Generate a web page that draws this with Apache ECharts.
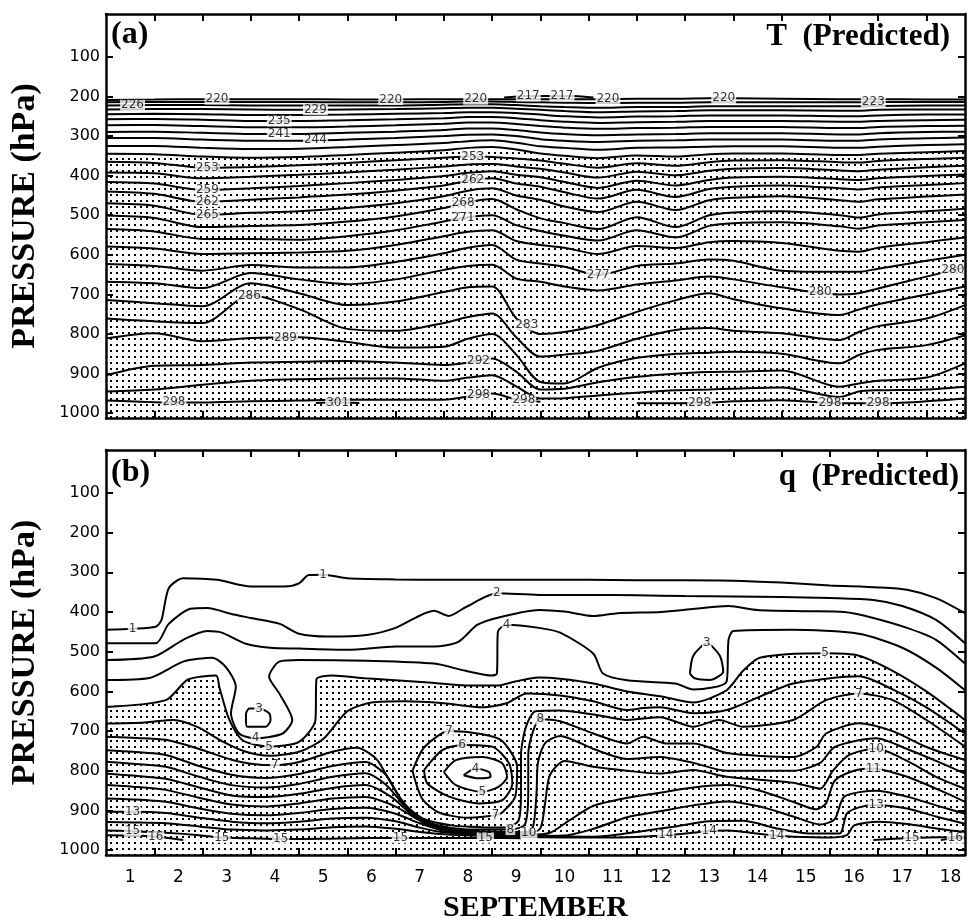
<!DOCTYPE html>
<html>
<head>
<meta charset="utf-8">
<script src="https://cdn.jsdelivr.net/npm/echarts@6/dist/echarts.min.js"></script>
<style>
  html, body { margin: 0; background: #fff; }
  #chart { width: 968px; height: 924px; }
</style>
</head>
<body>
<div id="chart"></div>
<script>
// axes
const dayLabels = ['1', '2', '3', '4', '5', '6', '7', '8', '9', '10', '11', '12', '13', '14', '15', '16', '17', '18']
const dayBounds = [1, 2, 3, 4, 5, 6, 7, 8, 9, 10, 11, 12, 13, 14, 15, 16, 17]
const dayCenters = [0.5, 1.5, 2.5, 3.5, 4.5, 5.5, 6.5, 7.5, 8.5, 9.5, 10.5, 11.5, 12.5, 13.5, 14.5, 15.5, 16.5, 17.5]
const pressureTicks = [100, 200, 300, 400, 500, 600, 700, 800, 900, 1000]

// (a) temperature contours, pressure (hPa) of each isotherm at these days
const tDays = [0, 1, 2, 3, 4, 5, 6, 7, 7.5, 8, 8.5, 9, 9.5, 10.2, 11, 11.8, 12.5, 13, 14, 15.2, 15.6, 16, 17, 17.8]
const T220 = [209, 208, 207, 207, 207, 208, 208, 207, 207, 207, 207, 207, 207, 207, 206, 206, 205, 205, 206, 207, 207, 207, 208, 208]
const T223 = [215, 214, 214, 214, 214, 215, 215, 214, 213, 213, 214, 215, 216, 217, 216, 216, 215, 215, 215, 215, 215, 214, 214, 214]
const T226 = [223, 222, 222, 223, 223, 223, 223, 221, 220, 220, 222, 225, 227, 229, 227, 227, 225, 225, 225, 225, 225, 224, 223, 223]
const T229 = [233, 232, 232, 233, 234, 233, 232, 230, 229, 229, 231, 234, 237, 240, 238, 237, 235, 235, 235, 236, 236, 234, 233, 233]
const T232 = [245, 244, 245, 247, 247, 246, 244, 242, 240, 240, 242, 246, 250, 253, 251, 250, 248, 248, 248, 250, 250, 248, 246, 246]
const T235 = [258, 257, 259, 262, 262, 260, 258, 255, 252, 252, 255, 260, 264, 267, 265, 264, 262, 262, 262, 264, 264, 262, 260, 259]
const T238 = [273, 272, 275, 278, 278, 276, 273, 269, 266, 266, 270, 275, 279, 282, 280, 279, 277, 277, 277, 280, 280, 277, 275, 274]
const T241 = [290, 289, 292, 295, 295, 292, 289, 285, 281, 281, 285, 291, 295, 298, 296, 295, 293, 293, 293, 296, 296, 293, 290, 289]
const T244 = [305, 305, 309, 312, 312, 309, 305, 300, 297, 296, 300, 308, 312, 315, 312, 311, 309, 309, 309, 312, 312, 309, 306, 304]
const T247 = [325, 325, 330, 333, 332, 328, 323, 318, 313, 311, 317, 326, 330, 335, 330, 329, 327, 326, 326, 330, 330, 327, 323, 321]
const T250 = [345, 346, 352, 355, 353, 348, 342, 336, 330, 328, 334, 344, 350, 356, 349, 352, 346, 344, 344, 348, 348, 345, 341, 338]
const T253 = [365, 368, 380, 378, 374, 368, 361, 355, 352, 353, 357, 362, 370, 380, 369, 375, 366, 362, 361, 366, 367, 363, 358, 355]
const T256 = [392, 394, 407, 403, 398, 392, 385, 377, 372, 371, 377, 383, 392, 405, 390, 399, 388, 383, 381, 387, 389, 385, 379, 375]
const T259 = [416, 420, 436, 432, 426, 419, 411, 401, 393, 389, 398, 404, 416, 431, 413, 425, 411, 405, 403, 409, 411, 407, 401, 397]
const T262 = [440, 446, 466, 461, 455, 448, 438, 425, 413, 407, 420, 428, 442, 458, 436, 454, 434, 428, 425, 432, 435, 430, 424, 419]
const T265 = [470, 476, 499, 494, 490, 482, 470, 452, 438, 432, 450, 461, 478, 492, 466, 487, 462, 456, 452, 462, 466, 460, 453, 448]
const T268 = [501, 507, 530, 527, 525, 516, 503, 482, 467, 459, 485, 508, 520, 535, 505, 530, 500, 493, 490, 500, 506, 498, 490, 484]
const T271 = [535, 541, 560, 560, 562, 553, 538, 516, 505, 500, 525, 540, 552, 564, 538, 556, 527, 520, 518, 528, 534, 526, 518, 512]
const T274 = [579, 584, 598, 596, 594, 590, 575, 553, 542, 538, 565, 575, 582, 598, 578, 583, 568, 565, 570, 590, 592, 582, 568, 556]
const T277 = [623, 628, 640, 626, 632, 632, 618, 596, 582, 575, 612, 622, 630, 651, 628, 622, 612, 615, 640, 643, 643, 635, 615, 600]
const T280 = [668, 672, 684, 646, 662, 674, 662, 638, 628, 625, 660, 668, 680, 690, 675, 665, 655, 662, 682, 700, 697, 685, 655, 632]
const T283 = [714, 722, 730, 672, 697, 727, 718, 694, 682, 680, 760, 800, 795, 777, 744, 715, 697, 712, 735, 752, 738, 725, 700, 680]
const T286 = [761, 768, 772, 702, 737, 787, 792, 772, 757, 748, 808, 857, 852, 842, 812, 790, 785, 792, 798, 815, 795, 780, 761, 727]
const T289 = [811, 798, 818, 810, 808, 820, 834, 832, 812, 800, 852, 921, 925, 885, 860, 850, 847, 845, 850, 874, 853, 840, 828, 803]
const T292 = [904, 880, 878, 872, 870, 868, 872, 878, 872, 862, 895, 940, 938, 922, 908, 900, 896, 895, 892, 933, 925, 918, 910, 874]
const T295 = [945, 940, 928, 918, 914, 912, 912, 918, 910, 904, 932, 963, 962, 955, 948, 942, 940, 938, 935, 959, 945, 942, 940, 933]
const T298 = [968, 972, 973, 970, 968, 966, 966, 966, 958, 950, 965, 971, '-', '-', 975, 975, 973, 970, 967, 975, 975, 975, 970, 963]
const T217days = [8.25, 8.7, 9.2, 9.7, 10.1]
const T217 = [203, 199, 199, 199, 203]
const T301days = [4.35, 4.8, 5.25]
const T301 = [974, 973, 974]

const tLines = [
  [220, T220], [223, T223], [226, T226], [229, T229], [232, T232], [235, T235], [238, T238],
  [241, T241], [244, T244], [247, T247], [250, T250], [253, T253], [256, T256], [259, T259],
  [262, T262], [265, T265], [268, T268], [271, T271], [274, T274], [277, T277], [280, T280],
  [283, T283], [286, T286], [289, T289], [292, T292], [295, T295], [298, T298]
]
// days where each isotherm carries its value
const tLabelDays = [
  [220, [2.3, 5.9, 7.66, 10.4, 12.8]], [223, [15.9]], [226, [0.55]], [229, [4.34]],
  [235, [3.59]], [241, [3.59]], [244, [4.34]], [253, [2.1, 7.6]], [259, [2.1]],
  [262, [2.1, 7.6]], [265, [2.1]], [268, [7.4]], [271, [7.4]], [277, [10.2]],
  [280, [14.8, 17.55]], [283, [8.72]], [286, [2.97]], [289, [3.72]], [292, [7.72]],
  [298, [1.41, 7.72, 8.66, 12.3, 15.0, 16.0]]
]

// (b) specific humidity contours, [day, hPa] along each line
const Q1 = [[0, 445], [0.55, 442], [1.03, 437], [1.15, 420], [1.3, 340], [1.6, 315], [2.3, 319], [3.0, 336], [3.7, 336], [4.0, 328], [4.2, 307], [4.5, 306], [5, 315], [6, 318], [7, 319], [8, 319], [9, 319], [10, 319], [11, 320], [12, 320], [13, 321], [14, 326], [15, 333], [16, 338], [16.6, 344], [17.2, 365], [17.8, 403]]
const Q2 = [[0, 479], [1.03, 479], [1.3, 430], [1.75, 392], [2.1, 390], [2.6, 405], [3.0, 415], [3.6, 430], [4.0, 455], [4.6, 462], [5.4, 458], [6.0, 440], [6.8, 397], [7.1, 410], [7.45, 388], [8.1, 353], [8.97, 357], [10, 357], [11, 358], [12, 360], [13, 361], [14, 362], [15, 365], [15.9, 370], [16.5, 385], [17.2, 420], [17.8, 479]]
const Q3 = [[0, 521], [1.0, 512], [1.6, 470], [2.1, 448], [2.4, 452], [2.9, 480], [3.4, 490], [4.0, 492], [5, 495], [6, 487], [6.8, 487], [7.3, 475], [7.7, 432], [8.2, 412], [8.97, 395], [9.5, 399], [10.1, 410], [10.6, 403], [11.5, 400], [12.2, 392], [12.9, 385], [13.5, 395], [14.5, 398], [15.3, 400], [15.9, 415], [16.6, 440], [17.2, 470], [17.8, 530]]
const Q4 = [[0, 571], [0.9, 566], [1.6, 525], [2.2, 515], [2.48, 538], [2.69, 588], [2.59, 655], [2.76, 706], [3.1, 718], [3.66, 706], [3.86, 672], [3.59, 605], [3.38, 563], [3.59, 525], [4.0, 521], [5.4, 523], [6.8, 530], [7.45, 548], [8.0, 560], [8.1, 555], [8.12, 450], [8.3, 432], [8.97, 440], [9.41, 452], [10.1, 505], [10.3, 555], [10.8, 572], [11.8, 580], [12.17, 595], [12.86, 575], [12.9, 470], [13.0, 448], [14.2, 445], [15.6, 455], [16.5, 490], [17.2, 540], [17.8, 597]]
const Q5 = [[0, 639], [1.24, 622], [1.7, 570], [2.28, 560], [2.35, 590], [2.55, 670], [2.83, 723], [3.38, 739], [4.0, 727], [4.34, 672], [4.36, 570], [4.69, 560], [5.38, 567], [6.76, 578], [7.45, 585], [8.14, 585], [8.48, 575], [8.97, 565], [9.41, 568], [10.1, 580], [10.8, 600], [11.48, 612], [12.17, 628], [12.86, 597], [13.2, 548], [13.55, 515], [14.9, 504], [15.6, 510], [16.3, 548], [17.0, 600], [17.8, 672]]
const Q6 = [[0, 681], [0.8, 678], [1.4, 672], [1.9, 690], [2.4, 725], [2.9, 752], [3.4, 762], [4.0, 752], [4.5, 720], [5.0, 650], [5.5, 628], [6.2, 625], [7.0, 630], [7.8, 640], [8.3, 630], [8.72, 605], [9.41, 610], [10.1, 625], [10.8, 647], [11.13, 642], [11.48, 640], [12.17, 655], [12.86, 647], [13.55, 613], [14.24, 580], [15.61, 562], [16.3, 595], [17.0, 640], [17.8, 706]]
const Q7 = [[0, 714], [0.55, 717], [1.24, 722], [1.93, 745], [2.6, 772], [3.0, 782], [3.5, 786], [4.0, 778], [4.69, 752], [5.2, 742], [5.6, 770], [5.9, 830], [6.2, 885], [6.6, 922], [7.2, 938], [7.8, 942], [8.3, 943], [8.55, 925], [8.6, 850], [8.6, 760], [8.7, 690], [8.9, 650], [9.4, 648], [10.1, 658], [10.8, 672], [11.48, 665], [12.17, 689], [12.7, 672], [13.2, 689], [14.24, 672], [14.92, 622], [15.6, 605], [16.3, 622], [17.0, 672], [17.8, 739]]
const Q8 = [[0, 748], [0.55, 752], [1.24, 760], [1.93, 788], [2.6, 810], [3.31, 818], [4.0, 808], [4.69, 788], [5.38, 778], [5.8, 810], [6.1, 870], [6.5, 920], [7.0, 940], [7.6, 948], [8.38, 948], [8.68, 935], [8.75, 850], [8.75, 760], [8.85, 700], [9.0, 670], [9.41, 675], [10.1, 706], [10.8, 731], [11.13, 714], [11.6, 731], [12.17, 731], [12.9, 756], [14.24, 765], [14.72, 740], [14.92, 706], [15.6, 680], [16.3, 700], [17.0, 740], [17.8, 773]]
const Q9 = [[0, 777], [0.55, 782], [1.24, 790], [1.93, 815], [2.6, 836], [3.31, 842], [4.0, 833], [4.69, 815], [5.38, 806], [5.8, 835], [6.2, 890], [6.6, 932], [7.2, 948], [8.0, 953], [8.7, 954], [8.85, 940], [8.92, 860], [8.95, 780], [9.1, 730], [9.41, 712], [10.1, 745], [10.8, 770], [11.48, 765], [12.17, 780], [12.86, 800], [14.24, 800], [14.8, 780], [15.1, 740], [15.96, 718], [16.6, 745], [17.2, 775], [17.8, 807]]
const Q10 = [[0, 807], [0.55, 812], [1.24, 820], [1.93, 842], [2.6, 862], [3.31, 866], [4.0, 858], [4.69, 843], [5.38, 836], [5.9, 865], [6.4, 915], [7.0, 945], [7.8, 956], [8.76, 957], [9.0, 945], [9.1, 880], [9.2, 810], [9.5, 775], [10.1, 790], [10.8, 800], [11.48, 807], [12.17, 798], [12.86, 815], [14.24, 830], [14.8, 845], [15.06, 800], [15.4, 760], [15.96, 744], [16.6, 775], [17.2, 815], [17.8, 845]]
const Q11 = [[0, 836], [0.55, 840], [1.24, 848], [1.93, 868], [2.6, 885], [3.31, 890], [4.0, 882], [4.69, 870], [5.38, 866], [6.0, 890], [6.5, 925], [7.0, 948], [7.8, 959], [8.8, 961], [9.2, 956], [9.6, 925], [10.1, 888], [10.8, 868], [11.48, 855], [12.17, 842], [12.86, 836], [13.55, 850], [14.24, 878], [14.72, 897], [14.92, 882], [15.1, 825], [15.5, 800], [15.9, 794], [16.6, 815], [17.2, 845], [17.8, 878]]
const Q12 = [[0, 870], [0.55, 872], [1.24, 878], [1.93, 895], [2.6, 908], [3.31, 912], [4.0, 906], [4.69, 896], [5.38, 893], [6.0, 908], [6.5, 932], [7.0, 951], [7.8, 961], [8.8, 964], [9.5, 963], [10.1, 946], [10.8, 917], [11.48, 902], [12.17, 887], [12.86, 877], [13.55, 890], [14.24, 915], [14.8, 935], [15.1, 922], [15.3, 865], [15.96, 850], [16.6, 865], [17.2, 887], [17.8, 908]]
const Q13 = [[0, 903], [0.55, 903], [1.24, 906], [1.93, 918], [2.6, 928], [3.31, 932], [4.0, 928], [4.69, 920], [5.38, 918], [6.0, 927], [6.5, 943], [7.0, 955], [7.8, 962], [9.0, 965], [10.0, 966], [10.5, 962], [11.1, 952], [11.8, 940], [12.5, 927], [13.2, 926], [13.9, 945], [14.6, 958], [15.2, 958], [15.35, 908], [15.6, 892], [15.96, 886], [16.6, 895], [17.2, 915], [17.8, 933]]
const Q14 = [[0, 929], [0.55, 930], [1.24, 932], [1.93, 940], [2.6, 948], [3.31, 950], [4.0, 948], [4.69, 942], [5.38, 940], [6.0, 946], [6.5, 954], [7.0, 960], [7.8, 964], [9.0, 967], [10.0, 968], [10.8, 967], [11.6, 962], [12.17, 956], [12.5, 951], [12.9, 950], [13.5, 958], [13.9, 963], [14.24, 966], [15.0, 968], [15.35, 962], [15.5, 938], [16.0, 928], [16.6, 934], [17.2, 945], [17.8, 954]]
const Q15 = [[0, 950], [0.55, 952], [1.24, 956], [1.93, 962], [2.4, 968], [3.0, 970], [3.62, 972], [4.5, 971], [5.5, 969], [6.1, 969], [7.0, 969], [7.86, 969], [8.6, 970]]
const Q15R = [[15.9, 974], [16.7, 969], [17.3, 967], [17.8, 967]]
const Q16 = [[0, 962], [0.55, 963], [1.03, 966], [1.6, 974]]
const Q16R = [[17.3, 974], [17.6, 970], [17.8, 969]]
const OVAL4 = [[7.41, 811], [7.66, 794], [7.94, 803], [7.97, 815], [7.73, 819], [7.41, 811]]
const OVAL5 = [[7.0, 803], [7.25, 773], [7.8, 765], [8.21, 781], [8.31, 815], [8.14, 840], [7.8, 853], [7.25, 836], [7.0, 803]]
const OVAL6 = [[6.59, 798], [6.97, 748], [7.38, 735], [8.0, 739], [8.35, 781], [8.42, 832], [8.21, 874], [7.73, 882], [7.11, 865], [6.66, 832], [6.59, 798]]
const OVAL7 = [[6.35, 800], [6.6, 740], [7.11, 700], [7.8, 708], [8.21, 725], [8.52, 790], [8.48, 865], [8.21, 905], [8.07, 912], [7.5, 918], [6.9, 905], [6.55, 870], [6.35, 800]]
const B3L = [[2.9, 655], [2.97, 643], [3.17, 643], [3.38, 655], [3.41, 672], [3.31, 689], [2.93, 689], [2.9, 672], [2.9, 655]]
const B3R = [[12.1, 555], [12.17, 510], [12.45, 479], [12.72, 510], [12.79, 550], [12.51, 571], [12.2, 567], [12.1, 555]]

// value, line, indices of the points that carry the value
const qLines = [
  ['1', Q1, [1, 11]], ['2', Q2, [15]], ['', Q3, []], ['4', Q4, [8, 21]], ['5', Q5, [7, 26]],
  ['', Q6, []], ['7', Q7, [6, 31]], ['8', Q8, [14, 19]], ['', Q9, []], ['10', Q10, [13, 27]],
  ['11', Q11, [27]], ['', Q12, []], ['13', Q13, [1, 25]], ['14', Q14, [16, 18, 21]],
  ['15', Q15, [1, 4, 6, 9, 11]], ['15', Q15R, [1]], ['16', Q16, [2]], ['16', Q16R, [1]],
  ['4', OVAL4, [1]], ['5', OVAL5, [6]], ['6', OVAL6, [2]], ['7', OVAL7, [2, 8]],
  ['3', B3L, [2]], ['3', B3R, [2]]
]

const serif = 'Liberation Serif'
const dots = document.createElement('canvas')
dots.width = 6
dots.height = 6
const g = dots.getContext('2d')
g.fillStyle = '#000'
g.fillRect(2, 2, 2, 2)
const stipple = {image: dots, repeat: 'repeat'}

const pairs = (days, vals) => days.map((d, i) => [d, vals[i]])

const pAt = (days, vals, d) => {
  for (let i = 0; i < days.length - 1; i++) {
    if (d >= days[i] && d <= days[i + 1] && vals[i] !== '-' && vals[i + 1] !== '-') {
      const f = (d - days[i]) / (days[i + 1] - days[i])
      return vals[i] + f * (vals[i + 1] - vals[i])
    }
  }
  return null
}

const contour = (data, xi, yi, smooth) => ({
  type: 'line', xAxisIndex: xi, yAxisIndex: yi, data, showSymbol: false, symbol: 'none',
  smooth, silent: true, animation: false, z: 3,
  lineStyle: {color: '#000', width: 2},
})

const labelSeries = (data, xi, yi) => ({
  type: 'scatter', xAxisIndex: xi, yAxisIndex: yi, data, symbolSize: 1, z: 6,
  silent: true, animation: false,
  itemStyle: {color: 'rgba(0,0,0,0)'},
  label: {
    show: true, position: 'inside', formatter: p => p.value[2],
    fontFamily: 'DejaVu Sans', fontSize: 12, color: '#000',
    backgroundColor: '#fff', padding: [0, 1], lineHeight: 11,
  },
})

const axisLine = {show: true, onZero: false, lineStyle: {color: '#000', width: 2.5}}
const tick = vals => ({show: true, inside: true, length: 7, customValues: vals, lineStyle: {color: '#000', width: 2}})

const xAx = (grid, pos, withLabels) => ({
  type: 'value', gridIndex: grid, position: pos, min: 0, max: 17.8, z: 10,
  axisLine, axisTick: tick(dayBounds), splitLine: {show: false},
  axisLabel: withLabels ? {
    show: true, customValues: dayCenters, formatter: v => dayLabels[Math.floor(v)],
    fontFamily: 'DejaVu Sans', fontSize: 17, color: '#000', margin: 14,
  } : {show: false},
  name: withLabels ? 'SEPTEMBER' : '', nameLocation: 'middle', nameGap: 38,
  nameTextStyle: {fontFamily: serif, fontWeight: 'bold', fontSize: 30, color: '#000'},
})

const yAx = (grid, pos) => ({
  type: 'value', gridIndex: grid, position: pos, inverse: true, min: -8, max: 1012, z: 10,
  axisLine, axisTick: tick(pressureTicks), splitLine: {show: false},
  axisLabel: pos === 'left' ? {
    show: true, customValues: pressureTicks, formatter: v => String(v),
    fontFamily: 'DejaVu Sans', fontSize: 16, color: '#000', margin: 6,
  } : {show: false},
  name: pos === 'left' ? 'PRESSURE (hPa)' : '', nameLocation: 'middle', nameGap: 64, nameRotate: 90,
  nameTextStyle: {fontFamily: serif, fontWeight: 'bold', fontSize: 34, color: '#000'},
})

const series = []

// (a)
series.push(Object.assign(contour(pairs(tDays, T250), 0, 0, 0.3), {
  areaStyle: {color: stipple, opacity: 1, origin: 'end'}, z: 1, lineStyle: {width: 0},
}))
tLines.forEach(([v, vals]) => series.push(contour(pairs(tDays, vals), 0, 0, 0.3)))
series.push(contour(pairs(T217days, T217), 0, 0, 0.3))
series.push(contour(pairs(T301days, T301), 0, 0, 0.3))
const tLabelData = []
tLabelDays.forEach(([v, days]) => {
  const vals = tLines.find(l => l[0] === v)[1]
  days.forEach(d => {
    const p = pAt(tDays, vals, d)
    if (p !== null) tLabelData.push([d, p, String(v)])
  })
})
tLabelData.push([9.45, pAt(T217days, T217, 9.45), '217'])
tLabelData.push([8.75, pAt(T217days, T217, 8.75), '217'])
tLabelData.push([4.8, pAt(T301days, T301, 4.8), '301'])
series.push(labelSeries(tLabelData, 0, 0))

// (b)
series.push(Object.assign(contour(Q5, 2, 2, 0.3), {
  areaStyle: {color: stipple, opacity: 1, origin: 'end'}, z: 1, lineStyle: {width: 0},
}))
series.push({
  type: 'custom', xAxisIndex: 2, yAxisIndex: 2, z: 2, silent: true, animation: false,
  data: [[7.6, 810]],
  renderItem: (params, api) => ({
    type: 'polygon',
    shape: {points: OVAL5.map(pt => api.coord(pt)), smooth: 0.3},
    style: {fill: '#fff'},
  }),
})
const qLabelData = []
qLines.forEach(([v, pts, idx]) => {
  series.push(contour(pts, 2, 2, 0.25))
  idx.forEach(i => qLabelData.push([pts[i][0], pts[i][1], v]))
})
series.push(labelSeries(qLabelData, 2, 2))

const option = {
  backgroundColor: '#fff',
  animation: false,
  title: [
    {text: '(a)', left: 106, top: 14, textStyle: {fontFamily: serif, fontWeight: 'bold', fontSize: 32, color: '#000'}},
    {text: 'T  (Predicted)', right: 13, top: 16, textStyle: {fontFamily: serif, fontWeight: 'bold', fontSize: 31, color: '#000'}},
    {text: '(b)', left: 106, top: 452, textStyle: {fontFamily: serif, fontWeight: 'bold', fontSize: 32, color: '#000'}},
    {text: 'q  (Predicted)', right: 4, top: 456, textStyle: {fontFamily: serif, fontWeight: 'bold', fontSize: 31, color: '#000'}},
  ],
  grid: [
    {left: 105, top: 14, width: 860, height: 404},
    {left: 105, top: 450, width: 860, height: 405},
  ],
  xAxis: [xAx(0, 'bottom', false), xAx(0, 'top', false), xAx(1, 'bottom', true), xAx(1, 'top', false)],
  yAxis: [yAx(0, 'left'), yAx(0, 'right'), yAx(1, 'left'), yAx(1, 'right')],
  series,
}

const chart = echarts.init(document.getElementById('chart'))
chart.setOption(option)
</script>
</body>
</html>
